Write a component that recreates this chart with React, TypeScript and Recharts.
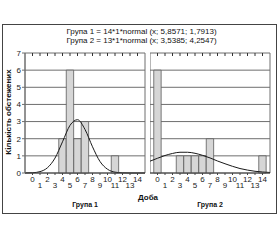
import { Bar, CartesianGrid, ComposedChart, Line, XAxis, YAxis } from 'recharts';

// histogram bins, x = -1 … 15 (one day per bin)
const days = [-1, 0, 1, 2, 3, 4, 5, 6, 7, 8, 9, 10, 11, 12, 13, 14, 15];
const group1Counts = [null, null, null, null, null, 2, 6, 2, 3, null, null, null, 1, null, null, null, null];
const group2Counts = [null, 6, null, null, 1, 1, 1, 1, 2, null, null, null, null, null, null, 1, null];

// fitted normal curves at each day
const group1Fit = [0.002, 0.015, 0.08, 0.31, 0.87, 1.82, 2.78, 3.11, 2.54, 1.53, 0.67, 0.22, 0.05, 0.01, 0, 0, 0];
const group2Fit = [0.69, 0.86, 1.02, 1.14, 1.21, 1.21, 1.15, 1.03, 0.88, 0.7, 0.54, 0.39, 0.26, 0.17, 0.1, 0.06, 0.03];

const xTicks = [0, 1, 2, 3, 4, 5, 6, 7, 8, 9, 10, 11, 12, 13, 14];
const yTicks = [0, 1, 2, 3, 4, 5, 6, 7];

const titleLines = ['Група 1 = 14*1*normal (x; 5,8571; 1,7913)', 'Група 2 = 13*1*normal (x; 3,5385; 4,2547)'];
const groupNames = ['Група 1', 'Група 2'];
const xTitle = 'Доба';
const yTitle = 'Кількість обстежених';

const font = '"Liberation Sans", Arial, sans-serif';
const gridColor = '#6e6e6e';

const StaggeredTick = ({ x, y, payload }: any) => {
  const odd = payload.value % 2 === 1;
  return (
    <text x={x} y={y + (odd ? 11 : 4.5)} textAnchor="middle" fontSize={8} fontFamily={font} fill="#222">
      {payload.value}
    </text>
  );
};

// top axis only shows its little tick marks
const NoLabel = () => <g />;

const Panel = ({ counts, fit, showY }: { counts: (number | null)[]; fit: number[]; showY: boolean }) => {
  const data = days.map((d, i) => ({ x: d, count: counts[i], fit: fit[i] }));
  return (
    <ComposedChart
      width={showY ? 150 : 125}
      height={240}
      data={data}
      margin={{ top: 53, right: 5, bottom: 47, left: 0 }}
    >
      <CartesianGrid
        stroke={gridColor}
        strokeWidth={1}
        verticalCoordinatesGenerator={({ offset }: any) => [offset.left, offset.left + offset.width]}
      />
      <XAxis
        dataKey="x"
        type="number"
        domain={[-1, 15]}
        ticks={xTicks}
        interval={0}
        height={20}
        tickSize={2}
        tickMargin={2}
        stroke="#444"
        tick={<StaggeredTick />}
      />
      <XAxis
        xAxisId="top"
        dataKey="x"
        orientation="top"
        type="number"
        domain={[-1, 15]}
        ticks={xTicks}
        interval={0}
        height={1}
        mirror
        tickSize={3}
        axisLine={false}
        stroke="#333"
        tick={<NoLabel />}
      />
      <YAxis
        hide={!showY}
        type="number"
        domain={[0, 7]}
        ticks={yTicks}
        interval={0}
        width={25}
        tickSize={3}
        tickMargin={1}
        stroke={gridColor}
        tick={{ fontSize: 8, fontFamily: font, fill: '#222' }}
      />
      <Bar
        dataKey="count"
        xAxisId="top"
        barSize={7.4}
        fill="#d6d6d6"
        stroke="#5a5a5a"
        strokeWidth={0.8}
        isAnimationActive={false}
      />
      <Line
        dataKey="fit"
        type="monotone"
        stroke="#1a1a1a"
        strokeWidth={1}
        dot={false}
        activeDot={false}
        isAnimationActive={false}
      />
    </ComposedChart>
  );
};

export default function App() {
  return (
    <div style={{ position: 'absolute', left: 0, top: 0, width: 280, height: 240, background: '#fff', fontFamily: font }}>
      <div
        style={{
          position: 'absolute',
          left: 2,
          top: 24,
          width: 273,
          height: 188,
          border: '1.5px solid #444',
        }}
      />
      <div style={{ position: 'absolute', left: 0, top: 27, width: 283, textAlign: 'center', fontSize: 8, lineHeight: '9px', color: '#111' }}>
        {titleLines.map((t) => (
          <div key={t}>{t}</div>
        ))}
      </div>
      <div style={{ position: 'absolute', left: 0, top: 0 }}>
        <Panel counts={group1Counts} fit={group1Fit} showY />
      </div>
      <div style={{ position: 'absolute', left: 150, top: 0 }}>
        <Panel counts={group2Counts} fit={group2Fit} showY={false} />
      </div>
      <div
        style={{
          position: 'absolute',
          left: 8,
          top: 112,
          transform: 'translate(-50%, -50%) rotate(-90deg)',
          whiteSpace: 'nowrap',
          fontSize: 8,
          fontWeight: 'bold',
          color: '#111',
        }}
      >
        {yTitle}
      </div>
      <div style={{ position: 'absolute', left: 100, width: 96, top: 193, textAlign: 'center', fontSize: 8, fontWeight: 'bold', color: '#111' }}>
        {xTitle}
      </div>
      <div style={{ position: 'absolute', left: 45, width: 80, top: 201, textAlign: 'center', fontSize: 7, fontWeight: 'bold', color: '#111' }}>
        {groupNames[0]}
      </div>
      <div style={{ position: 'absolute', left: 170, width: 80, top: 201, textAlign: 'center', fontSize: 7, fontWeight: 'bold', color: '#111' }}>
        {groupNames[1]}
      </div>
    </div>
  );
}
